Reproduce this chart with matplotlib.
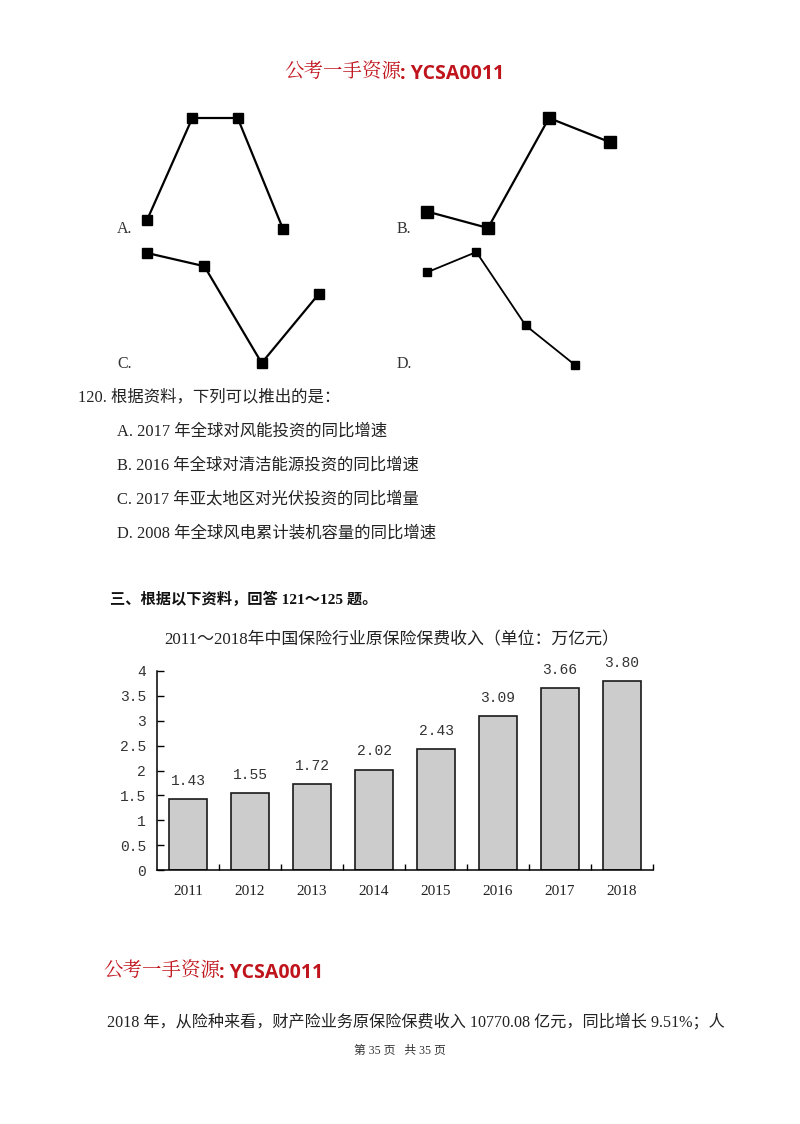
import matplotlib
matplotlib.use("Agg")
import matplotlib.pyplot as plt

# Seitengröße in Pixeln
W, H = 800, 1124

# Daten: kleine Liniendiagramme (relative Höhen, 0 = unten, 1 = oben)
line_a = [0.08, 1.0, 1.0, 0.0]
line_b = [0.15, 0.0, 1.0, 0.78]
line_c = [1.0, 0.88, 0.0, 0.63]
line_d = [0.82, 1.0, 0.35, 0.0]

# Daten: Balkendiagramm
years = ["2011", "2012", "2013", "2014", "2015", "2016", "2017", "2018"]
premium = [1.43, 1.55, 1.72, 2.02, 2.43, 3.09, 3.66, 3.80]
premium_labels = ["1.43", "1.55", "1.72", "2.02", "2.43", "3.09", "3.66", "3.80"]
yticks = [0, 0.5, 1, 1.5, 2, 2.5, 3, 3.5, 4]
ytick_labels = ["0", "0.5", "1", "1.5", "2", "2.5", "3", "3.5", "4"]

# Texte
watermark_cn = "公考一手资源"
watermark_code = ": YCSA0011"
question = "120. 根据资料，下列可以推出的是："
options = [
    "A. 2017 年全球对风能投资的同比增速",
    "B. 2016 年全球对清洁能源投资的同比增速",
    "C. 2017 年亚太地区对光伏投资的同比增量",
    "D. 2008 年全球风电累计装机容量的同比增速",
]
section = "三、根据以下资料，回答 121～125 题。"
chart_title = "2011～2018年中国保险行业原保险保费收入（单位：万亿元）"
body = "2018 年，从险种来看，财产险业务原保险保费收入 10770.08 亿元，同比增长 9.51%；人"
footer = "第 35 页   共 35 页"

SERIF = ["Liberation Serif", "Noto Sans CJK SC"]
MONO = ["Liberation Mono", "Noto Sans CJK SC"]
RED = "#c0141c"
TXT = "#222222"


def fx(x):
    return x / W


def fy(y):
    return 1 - y / H


fig = plt.figure(figsize=(8, 11.24), dpi=100)
fig.patch.set_facecolor("white")


def watermark(x, y):
    fig.text(fx(x), fy(y), watermark_cn, color=RED, fontsize=14,
             family=["Noto Serif CJK SC", "Noto Sans CJK SC"], va="center", ha="left")
    fig.text(fx(x + 116), fy(y + 1), watermark_code, color=RED, fontsize=14,
             family=["Open Sans"], weight="bold", va="center", ha="left")


watermark(284, 73)
watermark(103, 972)


# kleine Liniendiagramme A-D
def small_line(vals, x0, x1, ytop, ybot, ms, lw, label, lx, ly):
    ax = fig.add_axes([fx(x0), fy(ybot), (x1 - x0) / W, (ybot - ytop) / H])
    ax.plot(range(len(vals)), vals, color="black", lw=lw, marker="s",
            markersize=ms, clip_on=False)
    ax.set_xlim(0, len(vals) - 1)
    ax.set_ylim(0, 1)
    ax.axis("off")
    fig.text(fx(lx), fy(ly), label, fontsize=11.5, family=SERIF, va="center", ha="left",
             color="#333333")


small_line(line_a, 147, 283, 118, 229, 7, 1.6, "A.", 117, 229)
small_line(line_b, 427, 610, 118, 228, 8.5, 1.6, "B.", 397, 229)
small_line(line_c, 147, 319, 253, 363, 7.5, 1.6, "C.", 117, 364)
small_line(line_d, 427, 575, 252, 365, 5.5, 1.3, "D.", 397, 364)

# Fragetext
fig.text(fx(78), fy(397), question, fontsize=11.8, family=SERIF, va="center", color=TXT)
for i, opt in enumerate(options):
    fig.text(fx(117), fy(432 + i * 33.7), opt, fontsize=11.8, family=SERIF,
             va="center", color=TXT)

fig.text(fx(110), fy(599), section, fontsize=11, family=SERIF, weight="bold",
         va="center", color="#111111")

# Balkendiagramm
ax = fig.add_axes([fx(157), fy(870), 496 / W, 199 / H])
x = list(range(len(years)))
ax.bar(x, premium, width=0.6, color="#cccccc", edgecolor="#1a1a1a", linewidth=1.2)
for xi, v, lab in zip(x, premium, premium_labels):
    ax.annotate(lab, (xi, v), xytext=(0, 13), textcoords="offset points",
                ha="center", va="center", fontsize=10.5, family=MONO, color="#333333")
ax.set_xlim(-0.5, len(years) - 0.5)
ax.set_ylim(0, 4)
ax.set_xticks(x)
ax.set_xticklabels(years, family=SERIF, fontsize=11, color=TXT)
ax.set_xticks([i + 0.5 for i in x], minor=True)
ax.tick_params(axis="x", which="major", length=0, pad=11)
ax.tick_params(axis="x", which="minor", direction="in", length=4, width=1)
ax.set_yticks(yticks)
ax.set_yticklabels(ytick_labels, family=MONO, fontsize=10.5, color="#333333")
ax.tick_params(axis="y", direction="in", length=5, width=1, pad=8)
ax.spines["top"].set_visible(False)
ax.spines["right"].set_visible(False)
ax.spines["left"].set_linewidth(1.1)
ax.spines["bottom"].set_linewidth(1.1)
ax.set_facecolor("none")

fig.text(fx(392), fy(640), chart_title, fontsize=12.2, family=SERIF, ha="center",
         va="center", color=TXT)

# Fließtext und Fußzeile
fig.text(fx(107), fy(1022), body, fontsize=11.6, family=SERIF, va="center", color=TXT)
fig.text(fx(400), fy(1051), footer, fontsize=8.5, family=SERIF, ha="center",
         va="center", color="#333333")

fig.savefig("out.png", dpi=100, facecolor="white")
